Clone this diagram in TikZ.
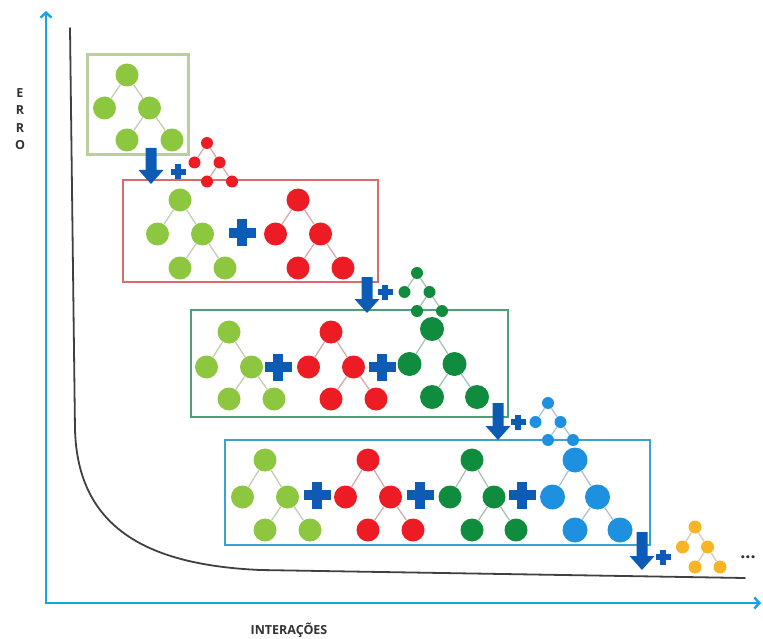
\documentclass[tikz,border=0pt]{standalone}
\usepackage{fontspec}
\setmainfont{Open Sans}
\usetikzlibrary{arrows.meta}

\definecolor{lgreen}{HTML}{8DC63F}
\definecolor{tred}{HTML}{ED1C24}
\definecolor{dgreen}{HTML}{0F8C3E}
\definecolor{tblue}{HTML}{1E90E0}
\definecolor{tyellow}{HTML}{F7B526}
\definecolor{markblue}{HTML}{0C5CB6}
\definecolor{axisblue}{HTML}{1AA3E2}
\definecolor{boxone}{HTML}{B9CF9E}
\definecolor{boxtwo}{HTML}{DB6A6C}
\definecolor{boxthree}{HTML}{4E9E78}
\definecolor{boxfour}{HTML}{3AA2D2}

\tikzset{
  leaf/.style={circle,inner sep=0pt,draw=none},
  link/.style={line width=1.3pt},
  axis/.style={draw=axisblue,line width=2.6pt,line cap=round},
  stagebox/.style={line width=2.2pt},
  lbl/.style={font=\fontsize{12.5}{13}\selectfont\bfseries,text=black!80},
}

% tree: name, x, y, colour, radius, dx, dy (root->children), dy (second level)
\newcommand\gbtree[8]{%
  \node[leaf,fill=#4,minimum size=2*#5pt] (#1r) at (#2,#3) {};
  \node[leaf,fill=#4,minimum size=2*#5pt] (#1a) at ({#2-#6},{#3+#7}) {};
  \node[leaf,fill=#4,minimum size=2*#5pt] (#1b) at ({#2+#6},{#3+#7}) {};
  \node[leaf,fill=#4,minimum size=2*#5pt] (#1c) at (#2,{#3+#7+#8}) {};
  \node[leaf,fill=#4,minimum size=2*#5pt] (#1d) at ({#2+2*#6},{#3+#7+#8}) {};
  \draw[link,draw=#4!40!gray!50!white] (#1r) -- (#1a) (#1r) -- (#1b)
        (#1b) -- (#1c) (#1b) -- (#1d);
}

% plus sign: x, y, half arm length, half thickness
\newcommand\crossmark[4]{%
  \fill[markblue] ({#1-#3},{#2-#4}) rectangle ({#1+#3},{#2+#4});
  \fill[markblue] ({#1-#4},{#2-#3}) rectangle ({#1+#4},{#2+#3});
}

% thick down arrow: x, top y, tip y
\newcommand\downmark[3]{%
  \fill[markblue] ({#1-5.5},#2) -- ({#1+5.5},#2) -- ({#1+5.5},{#3-14})
    -- ({#1+12.5},{#3-14}) -- (#1,#3) -- ({#1-12.5},{#3-14})
    -- ({#1-5.5},{#3-14}) -- cycle;
}

\begin{document}
\begin{tikzpicture}[x=1pt,y=-1pt]
\useasboundingbox (0,0) rectangle (763,639);

% axes
\coordinate (origin) at (46,603);
\coordinate (ytop) at (46,11);
\coordinate (xend) at (761,603);
\draw[axis,-{Straight Barb[length=5pt,width=11pt,line width=2.4pt]}] (origin) -- (ytop);
\draw[axis,-{Straight Barb[length=5pt,width=11pt,line width=2.4pt]}] (origin) -- (xend);

% error curve
\draw[line width=1.8pt,black!75,line cap=round]
  (70,28) -- (75,430) .. controls (78,530) and (150,565) .. (260,570) -- (745,578);

% axis labels
\node[lbl,align=center,inner sep=0pt,font=\fontsize{12.5}{12.5}\selectfont\bfseries]
  (ylab) at (20,119) {E\\[5pt]R\\[5pt]R\\[5pt]O};
\node[lbl,inner sep=0pt] (xlab) at (289,630) {INTERAÇÕES};

% stage frames
\draw[stagebox,draw=boxone,line width=3pt] (87,55) rectangle (188,155);
\draw[stagebox,draw=boxtwo] (123,180) rectangle (378,282);
\draw[stagebox,draw=boxthree] (191,310) rectangle (508,417);
\draw[stagebox,draw=boxfour] (225,440) rectangle (650,545);

% stage 1
\gbtree{sa}{127}{75}{lgreen}{11.5}{22.5}{33}{32}

% stage 2
\downmark{151}{148}{184}
\crossmark{178}{172}{7.5}{2.7}
\gbtree{na}{207}{143}{tred}{6}{12.5}{19.5}{19}
\gbtree{ta}{180}{200}{lgreen}{11.5}{22.5}{34}{34}
\crossmark{242}{233}{13.5}{4.8}
\gbtree{tb}{298}{200}{tred}{11.5}{22.5}{34}{34}

% stage 3
\downmark{367}{277}{313}
\crossmark{385}{292}{7.5}{2.7}
\gbtree{nb}{417}{273}{dgreen}{6}{12.5}{19}{19}
\gbtree{ua}{229}{332}{lgreen}{11.5}{22.5}{35}{32}
\crossmark{278}{367}{13.5}{4.8}
\gbtree{ub}{331}{332}{tred}{11.5}{22.5}{35}{32}
\crossmark{382}{367}{13.5}{4.8}
\gbtree{uc}{432}{329}{dgreen}{12}{22.5}{35}{33}

% stage 4
\downmark{498}{403}{440}
\crossmark{518}{422}{7.5}{2.7}
\gbtree{nc}{548}{403}{tblue}{6}{12.5}{19}{18}
\gbtree{va}{265}{460}{lgreen}{11.5}{22.5}{37}{33}
\crossmark{317}{495}{13.5}{4.8}
\gbtree{vb}{368}{460}{tred}{11.5}{22.5}{37}{33}
\crossmark{420}{495}{13.5}{4.8}
\gbtree{vc}{472}{460}{dgreen}{11.5}{22}{37}{33}
\crossmark{522}{495}{13.5}{4.8}
\gbtree{vd}{575}{460}{tblue}{12.5}{22.5}{37}{33}

% next step
\downmark{642}{532}{570}
\crossmark{663}{557}{7.5}{2.7}
\gbtree{nd}{695}{527}{tyellow}{6.5}{12.5}{20}{20}
\node[lbl,inner sep=0pt,font=\fontsize{18}{18}\selectfont\bfseries] (more) at (748,557) {...};
\end{tikzpicture}
\end{document}
